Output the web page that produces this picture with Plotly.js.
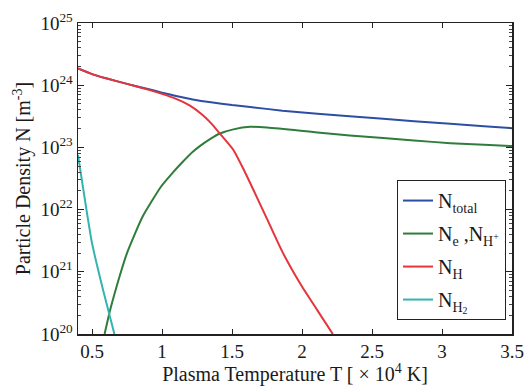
<!DOCTYPE html>
<html>
<head>
<meta charset="utf-8">
<script src="https://cdn.plot.ly/plotly-3.0.1.min.js"></script>
<style>html,body{margin:0;padding:0;background:#fff;}#chart{width:526px;height:386px;}</style>
</head>
<body>
<div id="chart"></div>
<script>
// Temperature in units of 10^4 K, densities in m^-3
const totalT = [0.4, 0.5, 0.6, 0.75, 0.9, 1.0, 1.1, 1.22, 1.35, 1.5, 1.63, 1.86, 2.11, 2.34, 2.58, 2.8, 3.06, 3.3, 3.5];
const totalN = [1.86e24, 1.51e24, 1.29e24, 1.05e24, 8.7e23, 7.6e23, 6.7e23, 5.9e23, 5.3e23, 4.79e23, 4.47e23, 3.89e23, 3.47e23, 3.16e23, 2.88e23, 2.63e23, 2.40e23, 2.19e23, 2.04e23];

const ionT = [0.59, 0.63, 0.7, 0.75, 0.86, 0.99, 1.06, 1.14, 1.22, 1.27, 1.34, 1.41, 1.51, 1.63, 1.75, 1.99, 2.11, 2.34, 2.58, 2.8, 3.06, 3.3, 3.5];
const ionN = [1.0e20, 2.45e20, 8.9e20, 2.0e21, 7.6e21, 2.29e22, 3.55e22, 5.6e22, 8.5e22, 1.05e23, 1.35e23, 1.66e23, 1.95e23, 2.14e23, 2.09e23, 1.86e23, 1.74e23, 1.55e23, 1.41e23, 1.29e23, 1.17e23, 1.10e23, 1.05e23];

const hT = [0.4, 0.5, 0.6, 0.75, 0.9, 1.0, 1.1, 1.2, 1.29, 1.35, 1.41, 1.51, 1.58, 1.65, 1.75, 1.86, 1.99, 2.11, 2.22];
const hN = [1.86e24, 1.51e24, 1.29e24, 1.05e24, 8.5e23, 7.24e23, 6.03e23, 4.68e23, 3.31e23, 2.45e23, 1.70e23, 9.1e22, 4.57e22, 2.14e22, 7.1e21, 2.09e21, 6.3e20, 2.4e20, 1.0e20];

const h2T = [0.4, 0.5, 0.58, 0.66];
const h2N = [7.6e22, 2.9e21, 5.0e20, 1.0e20];

const xTicks = [0.5, 1, 1.5, 2, 2.5, 3, 3.5];
const xTickText = ["0.5", "1", "1.5", "2", "2.5", "3", "3.5"];
const yTicks = [1e20, 1e21, 1e22, 1e23, 1e24, 1e25];
const yTickText = ["10<sup>20</sup>", "10<sup>21</sup>", "10<sup>22</sup>", "10<sup>23</sup>", "10<sup>24</sup>", "10<sup>25</sup>"];

const names = ["N<sub>total</sub>", "N<sub>e</sub> ,N<sub>H<sup>+</sup></sub>", "N<sub>H</sub>", "N<sub>H<sub>2</sub></sub>"];
const colors = ["#2c4fa3", "#2f7d3b", "#e6343b", "#33b4b0"];

const serif = "Liberation Serif, Times New Roman, serif";

const series = [[totalT, totalN], [ionT, ionN], [hT, hN], [h2T, h2N]];
const traces = series.map((s, i) => ({
  type: 'scatter', mode: 'lines', x: s[0], y: s[1], name: names[i], legendgroup: 'g' + i,
  line: {color: colors[i], width: 2, shape: 'spline', smoothing: 0.5}
}));

const layout = {
  width: 526, height: 386,
  margin: {l: 78, r: 14, t: 23, b: 52},
  paper_bgcolor: '#fff', plot_bgcolor: '#fff',
  font: {family: serif, color: '#1a1a1a', size: 19},
  showlegend: true,
  legend: {
    x: 0.735, y: 0.495, xanchor: 'left', yanchor: 'top',
    bgcolor: '#fff', bordercolor: '#222', borderwidth: 1,
    font: {family: serif, size: 20, color: '#1a1a1a'},
    tracegroupgap: 4, itemwidth: 30
  },
  xaxis: {
    range: [0.4, 3.5], tickmode: 'array', tickvals: xTicks, ticktext: xTickText,
    ticks: 'inside', ticklen: 5, tickcolor: '#222', mirror: 'ticks',
    showline: true, linecolor: '#222', linewidth: 1.5, showgrid: false, zeroline: false,
    tickfont: {family: serif, size: 19},
    title: {text: 'Plasma Temperature T [ × 10<sup>4</sup> K]', font: {family: serif, size: 20}, standoff: 3}
  },
  yaxis: {
    type: 'log', range: [20, 25], tickmode: 'array', tickvals: yTicks, ticktext: yTickText,
    ticks: 'inside', ticklen: 6, tickcolor: '#222', mirror: 'ticks',
    showline: true, linecolor: '#222', linewidth: 1.5, showgrid: false, zeroline: false,
    minor: {ticks: 'inside', ticklen: 3, tickcolor: '#444', dtick: 'D1', showgrid: false},
    tickfont: {family: serif, size: 19},
    title: {text: 'Particle Density N [m<sup>-3</sup>]', font: {family: serif, size: 20}, standoff: 4}
  }
};

Plotly.newPlot('chart', traces, layout, {displayModeBar: false, staticPlot: true});
</script>
</body>
</html>
